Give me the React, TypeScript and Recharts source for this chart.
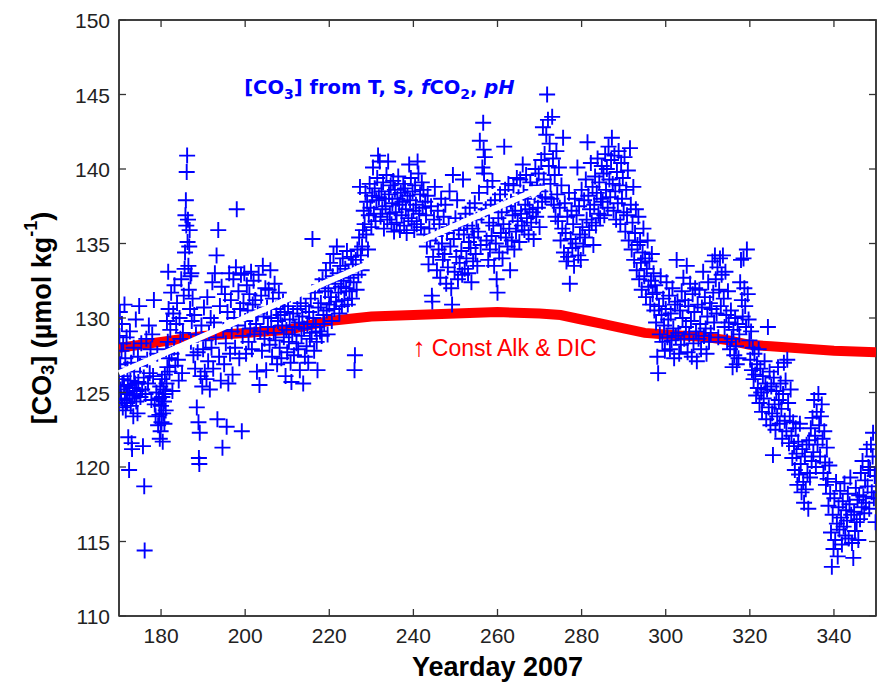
import {
  ScatterChart, Scatter, XAxis, YAxis, ReferenceDot, ReferenceArea,
} from 'recharts'

// ─── data ─────────────────────────────────────────────────────────────

const xTicks = [180, 200, 220, 240, 260, 280, 300, 320, 340]
const yTicks = [110, 115, 120, 125, 130, 135, 140, 145, 150]
const xDomain = [170, 350]
const yDomain = [110, 150]

// [CO3] with constant alkalinity & DIC (red band)
const constDays = [170, 180, 190, 200, 210, 215, 220, 230, 240, 250, 260, 270, 275, 280, 285, 290, 295, 300, 305, 310, 315, 320, 325, 330, 340, 350]
const constCo3  = [128.0, 128.4, 128.8, 129.0, 129.2, 129.5, 129.8, 130.1, 130.2, 130.3, 130.4, 130.3, 130.2, 129.9, 129.6, 129.3, 129.0, 128.9, 128.8, 128.7, 128.5, 128.2, 128.1, 128.0, 127.8, 127.7]

// [CO3] from T, S, fCO2, pH — [yearday, value]
const co3Jun: [number, number][] = [
  [170.1,128.8],[170.2,130.4],[170.3,126.9],[170.4,125.2],[170.5,124.6],[170.6,127.8],[170.7,129.6],[170.8,125.9],[170.9,124.0],[171.0,128.3],
  [171.1,126.1],[171.2,125.4],[171.3,130.9],[171.4,124.5],[171.5,127.3],[171.6,123.8],[171.7,125.0],[171.8,128.7],[171.9,124.3],[172.0,126.6],
  [172.1,125.5],[172.2,122.0],[172.4,119.8],[172.5,124.9],[172.6,129.1],[172.7,125.8],[172.8,124.1],[172.9,127.0],[173.0,121.6],[173.1,121.2],
  [173.2,124.6],[173.3,125.3],[173.4,123.4],[173.5,128.0],[173.6,126.4],[173.7,124.8],[173.8,125.6],[174.0,129.9],[174.1,124.4],[174.2,125.1],
  [174.4,123.6],[174.5,127.4],[174.6,125.7],[174.8,130.8],[175.0,126.8],[175.1,124.7],[175.3,128.3],[175.5,125.2],[175.7,121.4],[175.9,126.0],
  [176.0,118.7],[176.1,114.4],[176.3,124.9],[176.5,128.6],[176.7,127.2],[176.9,125.6],[177.1,129.5],[177.3,126.3],[177.5,127.9],[177.7,124.5],
  [177.9,128.9],[178.1,126.1],[178.3,131.2],[178.5,124.2],[178.7,123.4],[178.9,125.0],[179.1,127.6],[179.3,122.8],[179.5,124.6],[179.6,123.5],
  [179.7,121.9],[179.8,125.4],[179.9,122.4],[180.0,124.1],[180.1,123.0],[180.2,125.9],[180.3,124.7],[180.4,121.7],[180.5,123.6],[180.6,125.2],
  [180.7,124.4],[180.8,122.9],[180.9,126.2],[181.0,124.9],[181.1,123.8],[181.2,127.9],[181.3,125.6],[181.4,129.8],[181.5,126.7],[181.6,128.4],
  [181.7,133.1],[181.8,130.6],[181.9,127.3],
]

const co3Jul: [number, number][] = [
  [182.0,126.4],[182.2,129.2],[182.4,131.7],[182.5,127.6],[182.7,125.1],[182.9,130.3],[183.1,128.0],[183.2,132.2],[183.4,126.8],[183.6,129.6],
  [183.8,131.0],[184.0,127.2],[184.2,125.8],[184.4,130.0],[184.6,128.6],[184.8,132.6],[185.0,126.3],[185.2,129.0],[185.4,131.5],[185.6,133.3],
  [185.7,134.4],[185.8,136.9],[185.9,137.9],[186.0,136.2],[186.1,139.8],[186.2,140.9],[186.3,135.1],[186.4,136.6],[186.5,133.5],[186.6,131.9],
  [186.7,134.8],[186.8,135.9],[186.9,130.6],[187.0,132.8],[187.1,128.4],[187.2,133.0],[187.3,129.8],[187.5,131.3],[187.7,127.5],[187.9,130.2],
  [188.1,126.6],[188.3,128.9],[188.5,124.0],[188.7,127.7],[188.9,123.0],[189.0,120.6],[189.1,120.2],[189.2,122.3],[189.4,126.1],[189.6,129.5],
  [189.8,125.4],[190.0,127.9],[190.2,130.7],[190.4,126.4],[190.6,128.5],[190.8,125.9],[191.0,131.4],[191.2,127.1],[191.4,129.0],[191.6,125.2],
  [191.8,130.0],[192.0,128.0],[192.2,132.4],[192.4,126.6],[192.6,129.7],[192.8,133.0],[193.0,128.7],[193.2,134.2],[193.4,123.2],[193.6,135.9],
  [193.8,127.4],[194.0,130.8],[194.2,125.8],[194.4,132.1],[194.6,121.3],[194.8,129.2],[195.0,126.9],[195.2,131.6],[195.4,128.3],[195.6,122.7],
  [195.8,130.4],[196.0,125.6],[196.2,133.0],[196.4,127.6],[196.6,131.2],[196.8,129.1],[197.0,126.2],[197.2,132.6],[197.4,130.0],[197.6,128.0],
  [197.8,133.4],[198.0,137.3],[198.2,129.5],[198.4,131.8],[198.6,127.3],[198.8,130.6],[199.0,132.9],[199.2,122.4],[199.4,128.8],[199.6,131.0],
  [199.8,133.0],[200.0,129.8],[200.2,127.6],[200.4,132.2],[200.6,130.5],[200.8,128.4],[201.0,131.6],[201.2,129.3],[201.4,133.1],[201.6,127.9],
  [201.8,130.9],[202.0,132.5],[202.2,128.9],[202.4,131.2],[202.6,129.6],[202.8,126.4],[203.0,130.3],[203.2,132.9],[203.4,125.5],[203.6,129.1],
  [203.8,131.5],[204.0,127.8],[204.2,133.5],[204.4,130.1],[204.6,128.6],[204.8,132.0],[205.0,126.5],[205.2,130.7],[205.4,129.4],[205.6,131.9],
  [205.8,128.2],[206.0,133.2],[206.2,130.0],[206.4,127.4],[206.6,131.3],[206.8,129.0],[207.0,132.3],[207.2,128.5],[207.4,130.6],[207.6,126.9],
  [207.8,129.8],[208.0,131.7],[208.2,128.0],[208.4,130.2],[208.6,127.3],[208.8,129.5],[209.0,131.1],[209.2,128.7],[209.4,130.4],[209.6,126.1],
  [209.8,129.2],[210.0,127.7],[210.2,130.8],[210.4,128.4],[210.6,129.9],[210.8,127.0],[211.0,125.7],[211.2,128.9],[211.4,130.3],[211.6,127.5],
  [211.8,129.4],
]

const co3Aug: [number, number][] = [
  [212.2,128.3],[212.4,130.6],[212.6,127.9],[212.8,129.7],[213.0,126.5],[213.2,131.0],[213.4,128.8],[213.6,130.1],[213.8,125.6],[214.0,129.3],
  [214.2,127.4],[214.4,130.8],[214.6,128.1],[214.8,129.6],[215.0,127.0],[215.2,130.4],[215.4,128.6],[215.6,131.3],[215.8,129.0],[216.0,135.3],
  [216.2,130.0],[216.4,127.8],[216.6,131.7],[216.8,129.4],[217.0,128.4],[217.2,126.5],[217.4,130.7],[217.6,132.2],[217.8,129.1],[218.0,131.0],
  [218.2,128.8],[218.4,132.6],[218.6,130.2],[218.8,129.6],[219.0,131.8],[219.2,133.2],[219.4,130.5],[219.6,128.9],[219.8,132.0],[220.0,130.9],
  [220.2,133.7],[220.4,131.4],[220.6,129.8],[220.8,132.8],[221.0,134.3],[221.2,130.6],[221.4,132.3],[221.6,131.1],[221.8,134.8],[222.0,133.0],
  [222.2,131.7],[222.4,130.3],[222.6,133.5],[222.8,132.1],[223.0,130.8],[223.2,134.0],[223.4,132.5],[223.6,131.2],[223.8,133.3],[224.0,132.0],
  [224.2,134.5],[224.4,130.9],[224.6,133.1],[224.8,131.8],[225.0,132.7],[225.2,134.1],[225.4,131.3],[225.6,133.6],[225.8,132.4],[226.0,126.5],
  [226.1,127.5],[226.3,133.9],[226.5,131.9],[226.7,134.6],[226.9,132.9],[227.1,135.4],[227.3,138.8],[227.5,134.2],[227.7,133.2],[227.8,134.8],
  [228.0,135.9],[228.2,137.2],[228.4,136.3],[228.6,138.4],[228.8,135.6],[229.0,137.8],[229.2,134.6],[229.4,136.9],[229.6,139.0],[229.8,137.4],
  [230.0,136.1],[230.2,138.2],[230.4,140.1],[230.6,137.0],[230.8,138.7],[231.0,136.5],[231.2,137.9],[231.4,139.4],[231.6,140.9],[231.8,138.1],
  [232.0,140.5],[232.2,136.8],[232.4,138.5],[232.6,137.3],[232.8,139.1],[233.0,136.0],[233.2,138.0],[233.4,137.5],[233.6,139.6],[233.8,136.6],
  [234.0,140.5],[234.2,138.3],[234.4,137.0],[234.6,138.9],[234.8,136.3],[235.0,137.7],[235.2,139.2],[235.4,135.8],[235.6,138.6],[235.8,137.1],
  [236.0,136.4],[236.2,138.0],[236.4,139.5],[236.6,137.6],[236.8,135.9],[237.0,138.4],[237.2,136.9],[237.4,137.8],[237.6,139.0],[237.8,136.2],
  [238.0,138.7],[238.2,137.3],[238.4,135.7],[238.6,138.2],[238.8,136.7],[239.0,140.3],[239.2,137.9],[239.4,139.4],[239.6,136.5],[239.8,138.5],
  [240.0,137.2],[240.2,135.9],[240.4,138.9],[240.6,137.6],[240.8,136.3],[241.0,140.5],[241.2,139.7],[241.4,137.0],[241.6,138.3],[241.8,136.1],
  [242.0,139.1],[242.2,137.4],[242.4,138.6],[242.6,135.6],[242.8,137.8],
]

const co3Sep: [number, number][] = [
  [243.0,136.9],[243.2,134.8],[243.4,138.2],[243.6,133.6],[243.8,136.0],[244.0,135.2],[244.2,137.5],[244.4,131.5],[244.5,131.1],[244.7,134.1],
  [244.9,136.6],[245.1,138.8],[245.3,135.5],[245.6,133.2],[245.8,137.2],[246.0,134.6],[246.2,136.3],[246.4,132.7],[246.6,138.0],[246.8,135.0],
  [247.0,133.9],[247.2,136.8],[247.4,134.3],[247.6,137.6],[247.8,132.3],[248.0,135.7],[248.2,133.4],[248.4,136.1],[248.6,138.5],[248.8,134.8],
  [249.0,132.0],[249.2,130.9],[249.4,139.6],[249.6,135.3],[249.8,133.1],[250.0,136.7],[250.2,134.1],[250.4,137.9],[250.6,132.6],[250.8,135.9],
  [251.0,133.7],[251.2,136.4],[251.4,134.5],[251.6,132.9],[251.8,139.3],[252.0,135.6],[252.2,133.3],[252.4,137.0],[252.6,134.0],[252.8,136.2],
  [253.0,133.0],[253.2,135.1],[253.4,137.4],[253.6,134.7],[253.8,132.4],[254.0,136.0],[254.2,133.8],[254.4,135.4],[254.6,137.7],[254.8,134.3],
  [255.0,136.6],[255.2,133.5],[255.4,135.8],[255.6,138.4],[255.8,141.9],[256.0,134.9],[256.2,136.9],[256.4,140.1],[256.6,143.1],[256.7,141.3],
  [256.8,139.7],[257.0,140.8],[257.2,137.3],[257.4,135.2],[257.6,138.8],[257.8,133.9],[258.0,136.4],[258.2,134.6],[258.4,137.6],[258.6,135.5],
  [258.8,139.2],[259.0,136.2],[259.2,133.5],[259.4,137.9],[259.6,135.0],[259.8,132.6],[260.0,131.7],[260.2,136.7],[260.4,134.4],[260.6,138.3],
  [260.8,135.7],[261.0,137.1],[261.2,134.0],[261.4,136.3],[261.6,141.5],[261.8,138.6],[262.0,135.4],[262.2,137.5],[262.4,134.8],[262.6,139.0],
  [262.8,136.0],[263.0,133.2],[263.2,137.8],[263.4,135.2],[263.6,136.9],[263.8,138.9],[264.0,134.6],[264.2,137.2],[264.4,135.8],[264.6,139.4],
  [264.8,136.5],[265.0,138.1],[265.2,135.1],[265.4,139.3],[265.6,137.0],[265.8,136.2],[266.0,140.3],[266.2,138.4],[266.4,135.9],[266.6,137.6],
  [266.8,139.6],[267.0,136.7],[267.2,138.0],[267.4,135.6],[267.6,137.3],[267.8,139.1],[268.0,136.4],[268.2,138.6],[268.4,137.1],[268.6,135.3],
  [268.8,138.2],[269.0,140.0],[269.2,136.8],[269.4,138.9],[269.6,137.4],[269.8,139.7],[270.0,136.1],[270.2,138.5],[270.4,140.6],[270.6,137.8],
  [270.8,142.8],[271.0,139.3],[271.2,141.0],[271.4,138.1],[271.6,142.3],[271.8,145.0],[272.0,143.3],[272.2,140.2],[272.4,141.7],[272.6,139.0],
  [272.8,138.0],[273.0,143.5],[273.2,140.7],[273.4,137.6],[273.6,139.6],[273.8,136.8],
]

const co3Oct: [number, number][] = [
  [274.0,141.2],[274.2,138.3],[274.4,136.5],[274.6,140.1],[274.8,137.4],[275.0,135.2],[275.2,138.9],[275.4,136.0],[275.6,142.1],[275.8,134.4],
  [276.0,137.7],[276.2,135.7],[276.4,133.8],[276.6,136.8],[276.8,134.1],[277.0,138.4],[277.2,132.3],[277.4,135.3],[277.6,137.2],[277.8,134.7],
  [278.0,136.3],[278.2,133.5],[278.4,138.0],[278.6,135.0],[278.8,136.9],[279.0,140.1],[279.2,134.2],[279.4,137.5],[279.6,135.6],[279.8,133.9],
  [280.0,138.6],[280.2,136.1],[280.4,134.8],[280.6,137.9],[280.8,135.4],[281.0,139.3],[281.2,136.6],[281.4,141.8],[281.6,138.2],[281.8,135.9],
  [282.0,137.3],[282.2,140.4],[282.4,136.4],[282.6,138.8],[282.8,134.9],[283.0,137.6],[283.2,139.5],[283.4,136.2],[283.6,138.4],[283.8,140.7],
  [284.0,137.0],[284.2,139.1],[284.4,136.7],[284.6,138.0],[284.8,140.2],[285.0,137.8],[285.2,139.7],[285.4,136.9],[285.6,141.0],[285.8,138.6],
  [286.0,140.0],[286.2,137.4],[286.4,141.5],[286.6,139.3],[286.8,138.1],[287.0,140.6],[287.2,142.1],[287.4,139.0],[287.6,137.2],[287.8,140.9],
  [288.0,138.5],[288.2,136.6],[288.4,139.8],[288.6,137.7],[288.8,141.2],[289.0,138.9],[289.2,136.3],[289.4,140.4],[289.6,138.0],[289.8,139.4],
  [290.0,137.1],[290.2,140.8],[290.4,135.8],[290.6,138.6],[290.8,136.9],[291.0,139.9],[291.2,135.2],[291.5,141.4],[291.7,137.6],[291.9,134.6],
  [292.1,136.4],[292.3,138.8],[292.5,133.9],[292.7,135.7],[292.9,137.3],[293.1,133.2],[293.3,134.9],[293.5,136.8],[293.7,132.6],[293.9,135.1],
  [294.1,133.7],[294.3,131.9],[294.5,134.4],[294.7,136.0],[294.9,132.8],[295.1,134.0],[295.3,131.4],[295.5,133.3],[295.7,135.2],[295.9,132.1],
  [296.1,133.8],[296.3,130.9],[296.5,132.5],[296.7,134.3],[296.9,131.6],[297.1,133.0],[297.3,130.5],[297.5,132.2],[297.7,129.7],[297.9,131.7],
  [298.0,127.4],[298.2,126.3],[298.4,130.8],[298.6,128.9],[298.8,132.8],[299.0,130.2],[299.2,128.4],[299.4,131.3],[299.6,129.5],[299.8,127.8],
  [300.0,130.6],[300.2,132.4],[300.4,128.7],[300.6,129.9],[300.8,131.5],[301.0,127.9],[301.2,130.3],[301.4,128.5],[301.6,132.0],[301.8,129.3],
  [302.0,127.3],[302.2,130.9],[302.4,128.8],[302.6,133.9],[302.8,131.1],[303.0,129.0],[303.2,127.6],[303.4,130.5],[303.6,128.2],[303.8,131.8],
]

const co3Nov: [number, number][] = [
  [304.0,130.0],[304.2,132.7],[304.4,128.6],[304.6,131.2],[304.8,129.4],[305.0,133.5],[305.2,127.7],[305.4,130.8],[305.6,128.9],[305.8,132.3],
  [306.0,129.8],[306.2,127.4],[306.4,131.6],[306.6,128.3],[306.8,130.4],[307.0,132.0],[307.2,129.1],[307.4,127.1],[307.6,130.9],[307.8,128.6],
  [308.0,131.9],[308.2,129.6],[308.4,127.9],[308.6,130.7],[308.9,133.1],[309.1,128.8],[309.3,131.4],[309.5,129.3],[309.7,127.6],[309.9,130.1],
  [310.1,132.4],[310.3,128.4],[310.5,131.0],[310.7,129.0],[310.9,130.6],[311.1,133.8],[311.3,131.7],[311.5,129.7],[311.7,134.2],[311.9,132.6],
  [312.1,130.3],[312.3,133.4],[312.5,128.7],[312.7,131.9],[312.9,134.0],[313.1,130.8],[313.3,132.9],[313.6,134.2],[313.8,131.3],[314.0,129.4],
  [314.2,133.1],[314.4,130.2],[314.6,128.4],[314.8,131.8],[315.0,129.7],[315.3,127.9],[315.5,130.5],[315.7,128.6],[315.9,126.7],[316.1,129.2],
  [316.3,127.5],[316.5,130.0],[316.7,128.1],[316.9,126.9],[317.1,129.6],[317.3,127.3],[317.5,128.9],[317.7,132.4],[317.9,133.9],[318.1,131.2],
  [318.3,130.1],[318.5,134.0],[318.7,132.0],[318.9,130.8],[319.1,129.4],[319.3,134.6],[319.5,131.6],[319.7,129.9],[319.9,128.5],[320.1,127.2],
  [320.3,129.1],[320.5,126.5],[320.7,128.0],[320.9,125.9],[321.1,127.6],[321.3,126.2],[321.5,124.8],[321.7,126.9],[321.9,125.3],[322.1,127.9],
  [322.3,124.3],[322.5,126.6],[322.7,125.0],[322.9,123.7],[323.1,126.1],[323.3,124.6],[323.5,127.1],[323.7,125.6],[323.9,123.2],[324.1,125.2],
  [324.3,129.4],[324.5,124.0],[324.7,126.4],[324.9,122.8],[325.1,125.4],[325.3,123.6],[325.5,120.8],[325.7,126.0],[325.9,124.2],[326.1,122.5],
  [326.3,125.1],[326.5,123.4],[326.7,126.7],[326.9,124.5],[327.1,122.9],[327.3,125.6],[327.5,123.9],[327.7,121.9],[327.9,124.9],[328.1,127.0],
  [328.3,123.1],[328.5,125.8],[328.7,122.4],[328.9,127.2],[329.1,124.3],[329.3,121.6],[329.5,123.4],[329.7,125.2],[329.9,122.1],[330.1,120.6],
  [330.3,123.0],[330.5,121.4],[330.7,119.8],[330.9,122.6],[331.1,120.9],[331.3,118.8],[331.5,121.7],[331.7,119.5],[331.9,122.9],[332.1,120.2],
  [332.3,118.3],[332.5,121.2],[332.7,119.0],[332.9,117.6],[333.1,120.7],[333.3,118.5],[333.5,121.5],[333.7,119.6],[333.9,117.2],
]

const co3Dec: [number, number][] = [
  [334.1,121.8],[334.3,119.3],[334.5,122.6],[334.7,120.4],[334.9,123.3],[335.1,121.0],[335.3,124.5],[335.5,122.1],[335.7,120.0],[335.9,123.7],
  [336.1,121.5],[336.3,124.9],[336.5,122.8],[336.7,120.7],[336.9,123.4],[337.1,124.2],[337.3,121.9],[337.5,119.6],[337.7,122.4],[337.9,120.3],
  [338.1,118.8],[338.3,121.3],[338.5,119.2],[338.7,117.4],[338.9,120.1],[339.1,118.2],[339.3,115.6],[339.5,113.3],[339.7,116.8],[339.9,114.5],
  [340.1,117.9],[340.3,115.1],[340.5,119.0],[340.7,116.2],[340.9,114.0],[341.1,117.3],[341.3,115.8],[341.5,118.4],[341.7,116.6],[341.9,114.8],
  [342.1,117.7],[342.3,116.0],[342.5,118.9],[342.7,115.4],[342.9,117.1],[343.1,116.4],[343.3,118.2],[343.5,115.2],[343.7,117.5],[343.9,119.3],
  [344.1,116.8],[344.3,114.9],[344.6,113.9],[344.8,117.0],[345.0,115.7],[345.2,118.6],[345.4,116.3],[345.6,117.8],[345.8,115.1],[346.0,118.1],
  [346.2,116.5],[346.4,119.6],[346.6,117.3],[346.8,120.4],[347.0,118.0],[347.2,116.9],[347.4,119.1],[347.6,117.6],[347.8,121.2],[348.0,118.7],
  [348.2,120.0],[348.4,117.2],[348.6,119.8],[348.8,121.5],[349.0,118.3],[349.2,120.7],[349.3,122.3],[349.5,117.9],[349.7,119.4],[349.9,116.3],
]

// white trend arrow, start and tip
const trendDays = [170, 271.8]
const trendCo3  = [126.3, 138.9]

// ─── helpers ──────────────────────────────────────────────────────────

const FONT = '"Liberation Sans", Arial, Helvetica, sans-serif'
const AXIS = '#333'
const W = 878
const H = 674
const MARGIN = { top: 12, right: 10, bottom: 0, left: 0 }
const PLOT_MARGIN = { top: 12, right: 10, bottom: 66, left: 111 }
const PLOT_RIGHT = W - MARGIN.right

const toPoints = (rows: [number, number][]) => rows.map(([day, co3]) => ({ day, co3 }))

const measured = toPoints([...co3Jun, ...co3Jul, ...co3Aug, ...co3Sep, ...co3Oct, ...co3Nov, ...co3Dec])
const constLine = constDays.map((day, i) => ({ day, co3: constCo3[i] }))
const trendLine = trendDays.map((day, i) => ({ day, co3: trendCo3[i] }))

// tick spots on the top / right edges of the box
const topTickSpots = xTicks.map((day) => ({ day, co3: yDomain[1] }))
const rightTickSpots = yTicks.map((co3) => ({ day: xDomain[1], co3 }))

function Plus({ cx, cy }: any) {
  return (
    <path
      d={`M${cx - 8},${cy}H${cx + 8}M${cx},${cy - 8}V${cy + 8}`}
      stroke="#0000ff"
      strokeWidth={1.9}
      fill="none"
    />
  )
}

function TopStub({ cx, cy }: any) {
  return <path d={`M${cx},${cy}V${cy + 7}`} stroke={AXIS} strokeWidth={1.3} fill="none" />
}

function RightStub({ cx, cy }: any) {
  return <path d={`M${cx},${cy}H${cx - 7}`} stroke={AXIS} strokeWidth={1.3} fill="none" />
}

function BottomTick({ x, y, payload }: any) {
  return (
    <g>
      <line x1={x} y1={y} x2={x} y2={y - 7} stroke={AXIS} strokeWidth={1.3} />
      <text x={x} y={y + 27} textAnchor="middle" fontSize={21} fill="#222" fontFamily={FONT}>
        {payload.value}
      </text>
    </g>
  )
}

function LeftTick({ x, y, payload }: any) {
  return (
    <g>
      <line x1={x} y1={y} x2={x + 7} y2={y} stroke={AXIS} strokeWidth={1.3} />
      <text x={x - 9} y={y + 8} textAnchor="end" fontSize={21} fill="#222" fontFamily={FONT}>
        {payload.value}
      </text>
    </g>
  )
}

// y label, plus the top and right edges of the box (taken from the axis box)
function YLabel({ viewBox }: any) {
  const cx = viewBox.x + 34
  const cy = viewBox.y + viewBox.height / 2
  const top = viewBox.y
  const bottom = viewBox.y + viewBox.height
  const left = viewBox.x + viewBox.width
  return (
    <g>
      <path
        d={`M${left},${top}H${PLOT_RIGHT}V${bottom}`}
        stroke={AXIS}
        strokeWidth={1.5}
        fill="none"
      />
      <text
        x={cx} y={cy}
        transform={`rotate(-90 ${cx} ${cy})`}
        textAnchor="middle"
        dominantBaseline="central"
        fontSize={27}
        fontWeight="bold"
        fontFamily={FONT}
        fill="#000"
      >
        [CO<tspan dy={6} fontSize={18}>3</tspan>
        <tspan dy={-6}>] (µmol kg</tspan>
        <tspan dy={-11} fontSize={18}>-1</tspan>
        <tspan dy={11}>)</tspan>
      </text>
    </g>
  )
}

function XLabel({ viewBox }: any) {
  return (
    <text
      x={viewBox.x + viewBox.width / 2}
      y={viewBox.y + 60}
      textAnchor="middle"
      fontSize={27}
      fontWeight="bold"
      fontFamily={FONT}
      fill="#000"
    >
      Yearday 2007
    </text>
  )
}

function TitleLabel({ viewBox }: any) {
  return (
    <text x={viewBox.x} y={viewBox.y} fontSize={19.5} fontWeight="bold" fontFamily='"DejaVu Sans", Verdana, sans-serif' fill="#0000ff">
      [CO<tspan dy={5} fontSize={14}>3</tspan>
      <tspan dy={-5}>] from T, S, </tspan>
      <tspan fontStyle="italic">f</tspan>
      <tspan>CO</tspan>
      <tspan dy={5} fontSize={14}>2</tspan>
      <tspan dy={-5}>, </tspan>
      <tspan fontStyle="italic">pH</tspan>
    </text>
  )
}

function ConstLabel({ viewBox }: any) {
  return (
    <text x={viewBox.x} y={viewBox.y} fontSize={23} fontFamily={FONT} fill="#ff0000">
      <tspan fontSize={26}>↑</tspan> Const Alk &amp; DIC
    </text>
  )
}

// white arrow drawn through the scatter's own line hook (gets pixel points)
function TrendArrow({ points }: any) {
  if (!points || points.length < 2) return null
  const { x: x1, y: y1 } = points[0]
  const { x: x2, y: y2 } = points[points.length - 1]
  const dx = x2 - x1
  const dy = y2 - y1
  const len = Math.hypot(dx, dy)
  const ux = dx / len
  const uy = dy / len
  const head = 19
  const half = 7
  const bx = x2 - ux * head
  const by = y2 - uy * head
  return (
    <g>
      <line x1={x1} y1={y1} x2={bx + ux * 2} y2={by + uy * 2} stroke="#fff" strokeWidth={6} />
      <polygon
        points={`${x2},${y2} ${bx - uy * half},${by + ux * half} ${bx + uy * half},${by - ux * half}`}
        fill="#fff"
      />
    </g>
  )
}

// ─── chart ────────────────────────────────────────────────────────────

export default function App() {
  return (
    <div style={{ position: 'relative', width: W, height: H }}>
      <ScatterChart width={W} height={H} margin={MARGIN}>
        <XAxis
          type="number"
          dataKey="day"
          domain={xDomain}
          ticks={xTicks}
          allowDataOverflow
          height={66}
          tickSize={0}
          tickMargin={0}
          tickLine={false}
          tick={<BottomTick />}
          axisLine={{ stroke: AXIS, strokeWidth: 1.5 }}
          label={{ content: <XLabel /> }}
        />
        <YAxis
          type="number"
          dataKey="co3"
          domain={yDomain}
          ticks={yTicks}
          allowDataOverflow
          width={111}
          tickSize={0}
          tickMargin={0}
          tickLine={false}
          tick={<LeftTick />}
          axisLine={{ stroke: AXIS, strokeWidth: 1.5 }}
          label={{ content: <YLabel /> }}
        />
        <ReferenceArea
          x1={xDomain[0]} x2={xDomain[1]} y1={yDomain[0]} y2={yDomain[1]}
          fill="none" fillOpacity={0} stroke={AXIS} strokeWidth={1.5} strokeOpacity={1}
        />
        <Scatter
          name="Const Alk & DIC"
          data={constLine}
          line={{ stroke: '#ff0000', strokeWidth: 10 }}
          shape={() => <g />}
          isAnimationActive={false}
        />
        <Scatter
          name="[CO3] from T, S, fCO2, pH"
          data={measured}
          shape={<Plus />}
          isAnimationActive={false}
        />
        <ReferenceDot x={200} y={145} r={1} fill="none" stroke="none" label={{ content: <TitleLabel /> }} />
        <ReferenceDot x={240} y={127.4} r={1} fill="none" stroke="none" label={{ content: <ConstLabel /> }} />
      </ScatterChart>

      {/* overlay sharing the same plot box: trend arrow and the top/right tick stubs */}
      <div style={{ position: 'absolute', left: 0, top: 0 }}>
        <ScatterChart width={W} height={H} margin={PLOT_MARGIN}>
          <XAxis type="number" dataKey="day" domain={xDomain} hide />
          <YAxis type="number" dataKey="co3" domain={yDomain} hide />
          <Scatter
            name="trend"
            data={trendLine}
            line={(p: any) => <TrendArrow {...p} />}
            shape={() => <g />}
            isAnimationActive={false}
          />
          <Scatter name="top ticks" data={topTickSpots} shape={<TopStub />} isAnimationActive={false} />
          <Scatter name="right ticks" data={rightTickSpots} shape={<RightStub />} isAnimationActive={false} />
        </ScatterChart>
      </div>
    </div>
  )
}
